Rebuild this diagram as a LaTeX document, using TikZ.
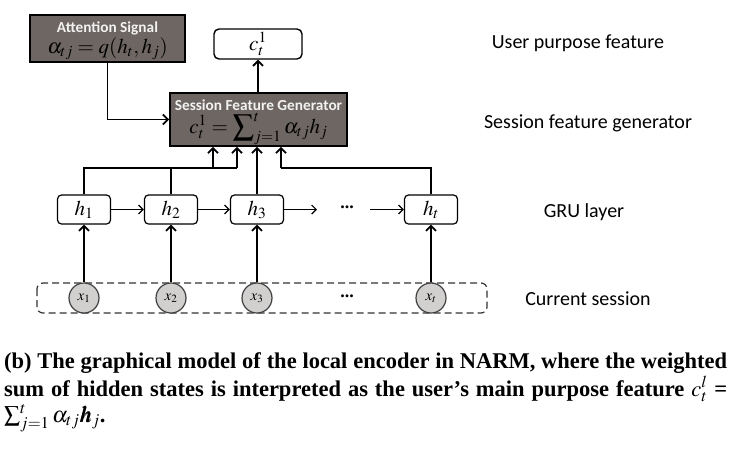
\documentclass[tikz,border=0pt]{standalone}
\usepackage{amsmath}
\usepackage{mathptmx}
\usepackage{bm}
\usepackage{fontspec}
\setmainfont{Liberation Serif}
\newfontfamily\calib{Carlito}
\usetikzlibrary{arrows.meta}
\definecolor{boxgray}{HTML}{6D6663}
\definecolor{nodegray}{HTML}{D2CFCF}
\definecolor{headtxt}{HTML}{F2F2F2}
\tikzset{
  darkbox/.style={draw=black, line width=1.8pt, fill=boxgray, minimum width=#1, inner sep=0pt, align=center},
  hbox/.style={draw=black, line width=1.2pt, rounded corners=4pt, fill=white, minimum width=53pt, minimum height=29pt, inner sep=0pt, font=\fontsize{21}{21}\selectfont},
  cbox/.style={draw=black, line width=1.4pt, rounded corners=5pt, fill=white, minimum width=88pt, minimum height=30pt, inner sep=0pt, font=\fontsize{21}{21}\selectfont},
  xnode/.style={circle, draw=black!75, line width=1.2pt, fill=nodegray, minimum size=30pt, inner sep=0pt, font=\fontsize{15}{15}\selectfont},
  thick arrow/.style={line width=1.8pt, -{Straight Barb[length=5pt,width=10pt,line width=1.8pt]}},
  thin arrow/.style={line width=1.2pt, -{Straight Barb[length=4.5pt,width=9pt,line width=1.2pt]}},
  thick line/.style={line width=1.8pt},
  sidelabel/.style={font=\calib\fontsize{20}{20}\selectfont, anchor=center},
  dotlabel/.style={font=\bfseries\fontsize{18}{18}\selectfont, inner sep=0pt},
  head/.style={font=\calib\bfseries\fontsize{15.3}{15.3}\selectfont, text=headtxt, inner sep=0pt},
  boxmath/.style={font=\fontsize{21}{21}\selectfont, inner sep=0pt},
  capline/.style={anchor=base west, inner sep=0pt, font=\bfseries\fontsize{22.5}{28}\selectfont}
}
\begin{document}
\begin{tikzpicture}[x=1pt,y=-1pt]
\useasboundingbox (0,0) rectangle (747,456);
% top boxes
\node[darkbox=155pt, minimum height=47pt] (att) at (107.5,38.5) {};
\node[head] (atthead) at (107.5,28) {Attention Signal};
\node[boxmath] (attmath) at (107.5,49) {$\alpha_{tj}=q(h_t,h_j)$};
\node[cbox] (c) at (258,44) {$c_t^1$};
\node[darkbox=177pt, minimum height=53pt] (sfg) at (258.5,119.5) {};
\node[head] (sfghead) at (258.5,105) {Session Feature Generator};
\node[boxmath] (sfgmath) at (258.5,129) {$c_t^1=\displaystyle\sum\nolimits_{j=1}^{t}\alpha_{tj}h_j$};
% GRU
\node[hbox] (h1) at (84,209.5) {$h_1$};
\node[hbox] (h2) at (171,209.5) {$h_2$};
\node[hbox] (h3) at (257,209.5) {$h_3$};
\node[dotlabel] (hd) at (347,207) {...};
\node[hbox] (ht) at (431,209.5) {$h_t$};
% session
\draw[line width=1.2pt, dashed, dash pattern=on 7pt off 4pt, rounded corners=6pt, draw=black!80] (37,283) rectangle (487,313);
\node[xnode] (x1) at (84,298) {$x_1$};
\node[xnode] (x2) at (171,298) {$x_2$};
\node[xnode] (x3) at (257,298) {$x_3$};
\node[dotlabel] (xd) at (347,296) {...};
\node[xnode] (xt) at (431,298) {$x_t$};
% side labels
\node[sidelabel] (l1) at (578,43) {User purpose feature};
\node[sidelabel] (l2) at (588,123) {Session feature generator};
\node[sidelabel] (l3) at (584,212) {GRU layer};
\node[sidelabel] (l4) at (588,299) {Current session};
% connectors
\draw[thick arrow] (att.south) |- (sfg.west);
\draw[thick arrow] (sfg.north -| c.south) -- (c.south);
\coordinate (b1) at (213,168);
\coordinate (b2) at (237,168);
\coordinate (b4) at (281,168);
\draw[thick line] (h1.north) |- (b2);
\draw[thick line] (h2.north) -- (h2.north |- b2);
\draw[thick arrow] (b1) -- (b1 |- sfg.south);
\draw[thick arrow] (b2) -- (b2 |- sfg.south);
\draw[thick arrow] (h3.north) -- (h3.north |- sfg.south);
\draw[thick line] (ht.north) |- (b4);
\draw[thick arrow] (b4) -- (b4 |- sfg.south);
\draw[thick arrow] (x1.north) -- (h1.south);
\draw[thick arrow] (x2.north) -- (h2.south);
\draw[thick arrow] (x3.north) -- (h3.south);
\draw[thick arrow] (xt.north) -- (ht.south);
\coordinate (d1) at (317,209.5);
\coordinate (d2) at (370,209.5);
\draw[thin arrow] (h1.east) -- (h2.west);
\draw[thin arrow] (h2.east) -- (h3.west);
\draw[thin arrow] (h3.east) -- (d1);
\draw[thin arrow] (d2) -- (ht.west);
% caption
\node[capline] (cap1) at (4,368) {\makebox[723pt][s]{(b) The graphical model of the local encoder in NARM, where the weighted}};
\node[capline] (cap2) at (4,396) {\makebox[723pt][s]{sum of hidden states is interpreted as the user’s main purpose feature $c_t^l$ =}};
\node[capline] (cap3) at (4,422) {$\sum_{j=1}^{t}\alpha_{tj}\bm{h}_j$.};
\end{tikzpicture}
\end{document}
